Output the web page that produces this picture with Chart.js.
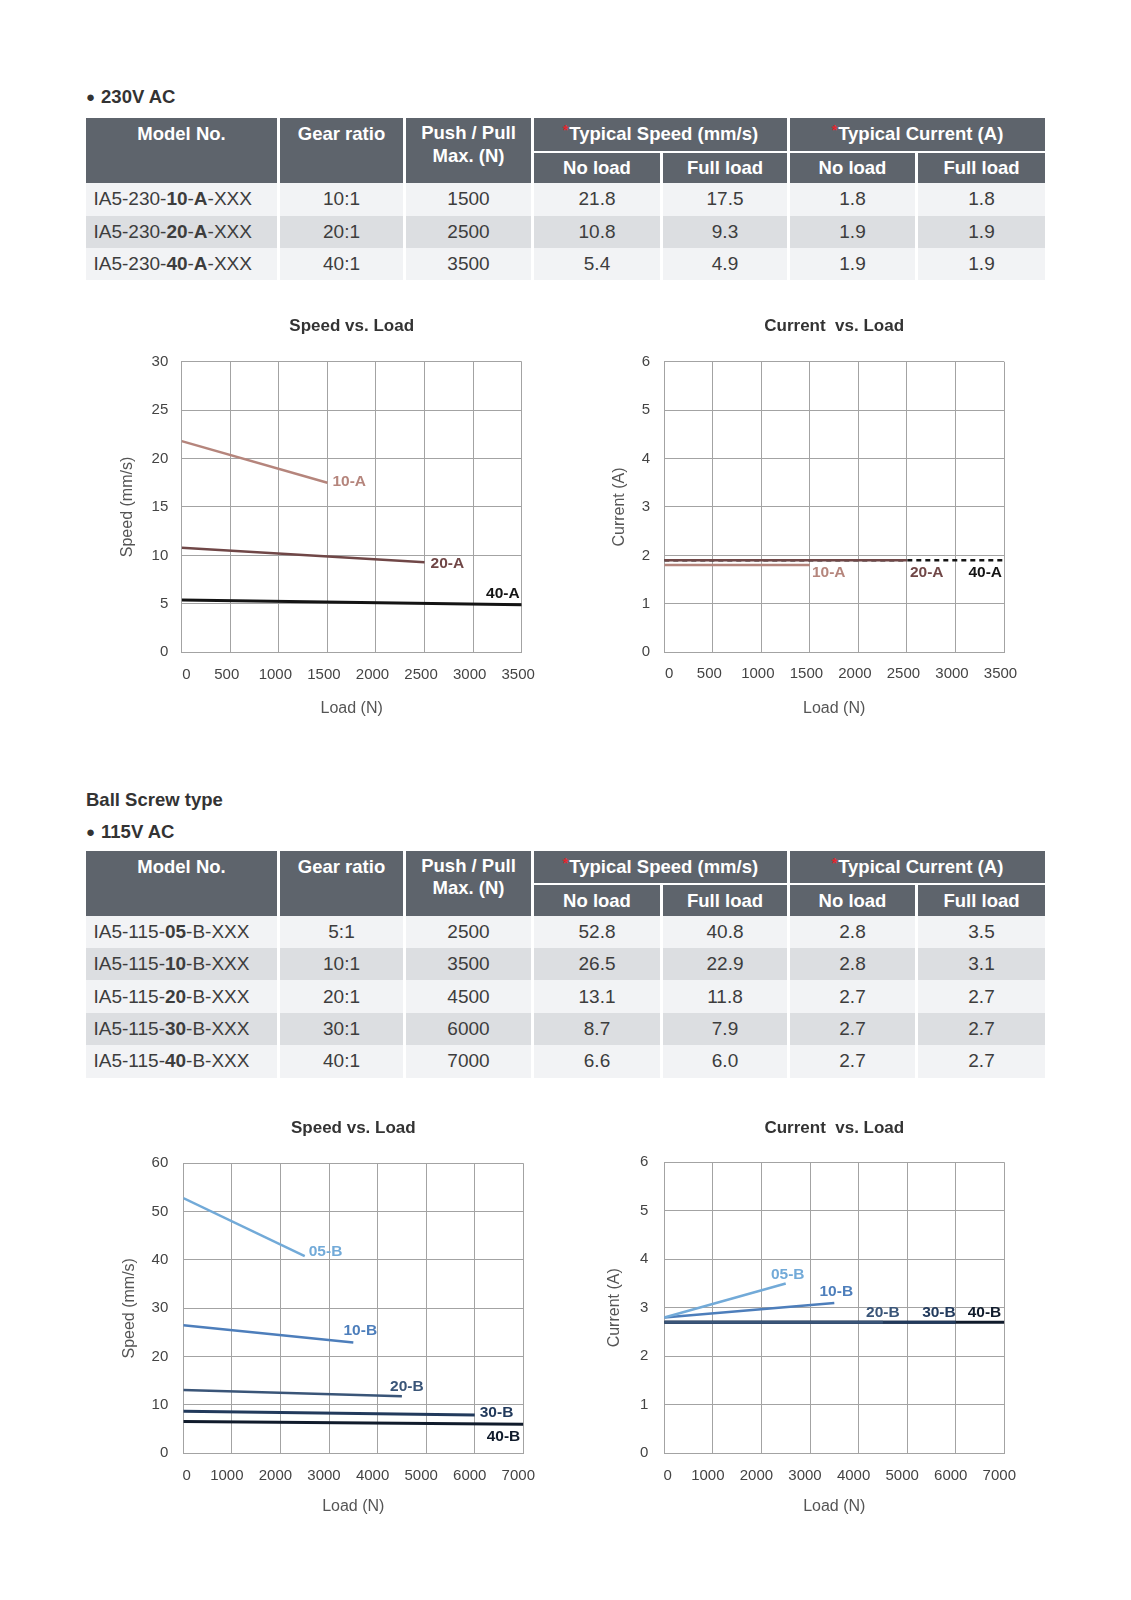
<!DOCTYPE html>
<html>
<head>
<meta charset="utf-8">
<title>IA5 speed and current vs. load</title>
<script src="https://cdn.jsdelivr.net/npm/chart.js@4.4.1/dist/chart.umd.min.js"></script>
<style>
html, body { margin: 0; padding: 0; background: #fff; }
body { position: relative; width: 1131px; height: 1600px; overflow: hidden;
       font-family: 'Liberation Sans', Arial, Helvetica, sans-serif; }
.heading { position: absolute; left: 86px; height: 24px; line-height: 24px; font-size: 18.5px;
           font-weight: bold; color: #333; white-space: nowrap; }
.heading .dot { font-size: 15px; position: relative; top: -1px; margin-right: 6px; }
table.spec { position: absolute; left: 86px; width: 959px; table-layout: fixed;
             border-collapse: separate; border-spacing: 0; }
.spec th { background: #5e646c; color: #fff; font-size: 18.5px; font-weight: bold; padding: 0;
           line-height: 32px; text-align: center; vertical-align: top; border-left: 3px solid #fff;
           white-space: nowrap; overflow: hidden; }
.spec th.first { border-left: none; }
.spec th.two { line-height: 22.4px; padding-top: 4px; }
.spec tr.h1 { height: 32.4px; }
.spec tr.h2 { height: 32.6px; }
.spec th.sub { border-top: 2px solid #fff; line-height: 29px; vertical-align: middle; }
.spec tbody tr { height: 32.4px; }
.spec td { padding: 0; font-size: 19px; color: #3d3d3d; text-align: center; line-height: 32px;
           border-left: 3px solid #fff; white-space: nowrap; }
.spec td.model { text-align: left; padding-left: 7.5px; border-left: none; }
.spec tr.odd td { background: #f2f3f5; }
.spec tr.even td { background: #dcdee1; }
.ast { color: #e3262f; font-size: 14px; line-height: 0; position: relative; top: -5px; margin-right: 1px; }
canvas.chart { position: absolute; }
</style>
</head>
<body>

<div class="heading" style="top:84.7px"><span class="dot">&#9679;</span>230V AC</div>
<table class="spec" id="table230" style="top:118.3px">
  <colgroup>
    <col style="width:191px"><col style="width:126px"><col style="width:128px">
    <col style="width:129px"><col style="width:127px"><col style="width:128px"><col style="width:130px">
  </colgroup>
  <thead>
    <tr class="h1">
      <th rowspan="2" class="first">Model No.</th>
      <th rowspan="2">Gear ratio</th>
      <th rowspan="2" class="two">Push / Pull<br>Max. (N)</th>
      <th colspan="2"><span class="ast">*</span>Typical Speed (mm/s)</th>
      <th colspan="2"><span class="ast">*</span>Typical Current (A)</th>
    </tr>
    <tr class="h2">
      <th class="sub">No load</th><th class="sub">Full load</th>
      <th class="sub">No load</th><th class="sub">Full load</th>
    </tr>
  </thead>
  <tbody></tbody>
</table>
<canvas id="speed230" class="chart"></canvas>
<canvas id="current230" class="chart"></canvas>

<div class="heading" style="top:788px">Ball Screw type</div>
<div class="heading" style="top:820.3px"><span class="dot">&#9679;</span>115V AC</div>
<table class="spec" id="table115" style="top:850.7px">
  <colgroup>
    <col style="width:191px"><col style="width:126px"><col style="width:128px">
    <col style="width:129px"><col style="width:127px"><col style="width:128px"><col style="width:130px">
  </colgroup>
  <thead>
    <tr class="h1">
      <th rowspan="2" class="first">Model No.</th>
      <th rowspan="2">Gear ratio</th>
      <th rowspan="2" class="two">Push / Pull<br>Max. (N)</th>
      <th colspan="2"><span class="ast">*</span>Typical Speed (mm/s)</th>
      <th colspan="2"><span class="ast">*</span>Typical Current (A)</th>
    </tr>
    <tr class="h2">
      <th class="sub">No load</th><th class="sub">Full load</th>
      <th class="sub">No load</th><th class="sub">Full load</th>
    </tr>
  </thead>
  <tbody></tbody>
</table>
<canvas id="speed115" class="chart"></canvas>
<canvas id="current115" class="chart"></canvas>

<script>
// 230V AC models
const models230 = ['10-A', '20-A', '40-A'];
const gearRatio230 = ['10:1', '20:1', '40:1'];
const maxLoad230 = [1500, 2500, 3500];
const speedNoLoad230 = [21.8, 10.8, 5.4];
const speedFullLoad230 = [17.5, 9.3, 4.9];
const currentNoLoad230 = [1.8, 1.9, 1.9];
const currentFullLoad230 = [1.8, 1.9, 1.9];

// 115V AC ball screw models
const models115 = ['05-B', '10-B', '20-B', '30-B', '40-B'];
const gearRatio115 = ['5:1', '10:1', '20:1', '30:1', '40:1'];
const maxLoad115 = [2500, 3500, 4500, 6000, 7000];
const speedNoLoad115 = [52.8, 26.5, 13.1, 8.7, 6.6];
const speedFullLoad115 = [40.8, 22.9, 11.8, 7.9, 6.0];
const currentNoLoad115 = [2.8, 2.8, 2.7, 2.7, 2.7];
const currentFullLoad115 = [3.5, 3.1, 2.7, 2.7, 2.7];

// axis ranges: [min, max, step]
const loadAxis230 = [0, 3500, 500];
const speedAxis230 = [0, 30, 5];
const loadAxis115 = [0, 7000, 1000];
const speedAxis115 = [0, 60, 10];
const currentAxis = [0, 6, 1];

const colors230 = ['#b5857c', '#704747', '#141414'];
const colors115 = ['#72aad8', '#4d7ebb', '#3a5578', '#223a5c', '#101b2b'];

const FONT = "'Liberation Sans', Arial, Helvetica, sans-serif";
const GRID = '#a3a3a3';

function fillTable(id, prefix, boldSeries, models, gear, load, sNo, sFull, cNo, cFull) {
  const tbody = document.querySelector('#' + id + ' tbody');
  models.forEach((m, i) => {
    const [num, ser] = m.split('-');
    const name = prefix + '<b>' + num + '</b>-' + (boldSeries ? '<b>' + ser + '</b>' : ser) + '-XXX';
    const tr = document.createElement('tr');
    tr.className = i % 2 ? 'even' : 'odd';
    tr.innerHTML = '<td class="model">' + name + '</td><td>' + gear[i] + '</td><td>' + load[i] +
      '</td><td>' + sNo[i].toFixed(1) + '</td><td>' + sFull[i].toFixed(1) +
      '</td><td>' + cNo[i].toFixed(1) + '</td><td>' + cFull[i].toFixed(1) + '</td>';
    tbody.appendChild(tr);
  });
}

fillTable('table230', 'IA5-230-', true, models230, gearRatio230, maxLoad230,
  speedNoLoad230, speedFullLoad230, currentNoLoad230, currentFullLoad230);
fillTable('table115', 'IA5-115-', false, models115, gearRatio115, maxLoad115,
  speedNoLoad115, speedFullLoad115, currentNoLoad115, currentFullLoad115);

// writes each series name next to the end point of its line
const endLabels = {
  id: 'endLabels',
  afterDatasetsDraw(chart) {
    const ctx = chart.ctx;
    chart.data.datasets.forEach((ds, i) => {
      const pts = chart.getDatasetMeta(i).data;
      const end = pts[pts.length - 1];
      const [align, dx, dy] = ds.place;
      ctx.save();
      ctx.font = 'bold 15.5px ' + FONT;
      ctx.fillStyle = ds.borderColor;
      ctx.textAlign = align;
      ctx.textBaseline = 'middle';
      ctx.fillText(ds.label, end.x + dx, end.y + dy);
      ctx.restore();
    });
  }
};

function series(models, load, noLoad, fullLoad, colors, places, widths, dashes) {
  return models.map((m, i) => ({
    label: m,
    data: [{x: 0, y: noLoad[i]}, {x: load[i], y: fullLoad[i]}],
    borderColor: colors[i],
    borderWidth: widths[i],
    borderDash: dashes ? dashes[i] : [],
    pointRadius: 0,
    tension: 0,
    place: places[i]
  }));
}

// the source sheet sets the "0" load label a little right of its gridline
const loadLabel = v => (v === 0 ? '    0' : String(v));

function drawChart(id, g, title, yTitle, xAxis, yAxis, datasets) {
  const cl = Math.round(g.plotL - 100), ct = Math.round(g.titleY - 40);
  const cw = Math.round(g.plotR + 36) - cl, ch = Math.round(g.xTitleY + 22) - ct;
  const canvas = document.getElementById(id);
  canvas.width = cw;
  canvas.height = ch;
  canvas.style.left = cl + 'px';
  canvas.style.top = ct + 'px';
  canvas.style.width = cw + 'px';
  canvas.style.height = ch + 'px';
  const tLH = 17 * 1.2, aLH = 16 * 1.2, kLH = 15 * 1.2;
  const tPadTop = g.titleY - ct - tLH / 2;

  new Chart(canvas, {
    type: 'line',
    data: {datasets: datasets},
    options: {
      responsive: false,
      animation: false,
      layout: {padding: {left: 0, top: 0, bottom: 0, right: cl + cw - g.plotR}},
      plugins: {
        legend: {display: false},
        tooltip: {enabled: false},
        title: {
          display: true, text: title, color: '#333', fullSize: false,
          font: {family: FONT, size: 17, weight: 'bold'},
          padding: {top: tPadTop, bottom: g.plotT - ct - tPadTop - tLH}
        }
      },
      scales: {
        x: {
          type: 'linear', min: xAxis[0], max: xAxis[1],
          ticks: {stepSize: xAxis[2], autoSkip: false, maxRotation: 0, color: '#444',
                  font: {family: FONT, size: 15}, padding: g.xTickY - g.plotB - kLH / 2,
                  labelOffset: g.labelShift, callback: loadLabel},
          grid: {color: GRID, drawTicks: false},
          border: {color: GRID},
          title: {display: true, text: 'Load (N)', color: '#555', font: {family: FONT, size: 16},
                  padding: {top: 0, bottom: ct + ch - g.xTitleY - aLH / 2}},
          afterFit: s => { s.height = ct + ch - g.plotB; }
        },
        y: {
          type: 'linear', min: yAxis[0], max: yAxis[1],
          ticks: {stepSize: yAxis[2], color: '#444', font: {family: FONT, size: 15},
                  padding: g.plotL - g.yTickR},
          grid: {color: GRID, drawTicks: false},
          border: {color: GRID},
          title: {display: true, text: yTitle, color: '#555', font: {family: FONT, size: 16},
                  padding: {top: g.yTitleX - cl - aLH / 2, bottom: 0}},
          afterFit: s => { s.width = g.plotL - cl; }
        }
      }
    },
    plugins: [endLabels]
  });
}

// label placement next to each line end: [align, dx, dy]
const placeSpeed230 = [['left', 5, -1], ['left', 6, 2], ['right', -2, -11]];
const placeCurrent230 = [['left', 2, 8], ['left', 3, 12], ['right', -2, 12]];
const placeSpeed115 = [['left', 4, -4], ['center', 7, -12], ['center', 5, -10], ['left', 5, -2], ['right', -3, 12]];
const placeCurrent115 = [['center', 2, -9], ['center', 2, -11], ['center', 0, -10], ['right', 0, -10], ['right', -3, -10]];

drawChart('speed230',
  {plotL: 181.7, plotR: 521.7, plotT: 361.7, plotB: 652.3, titleY: 326, yTickR: 168.3, yTitleX: 127.2,
   xTickY: 675, xTitleY: 709, labelShift: -3.5},
  'Speed vs. Load', 'Speed (mm/s)', loadAxis230, speedAxis230,
  series(models230, maxLoad230, speedNoLoad230, speedFullLoad230, colors230, placeSpeed230, [2.5, 2.5, 3]));

drawChart('current230',
  {plotL: 664.3, plotR: 1004, plotT: 361.7, plotB: 652.3, titleY: 326, yTickR: 650, yTitleX: 619.3,
   xTickY: 674.3, xTitleY: 709, labelShift: -3.5},
  'Current  vs. Load', 'Current (A)', loadAxis230, currentAxis,
  series(models230, maxLoad230, currentNoLoad230, currentFullLoad230, colors230, placeCurrent230, [2.5, 2.5, 2.5],
         [[], [], [5, 4]]));

drawChart('speed115',
  {plotL: 183.3, plotR: 523.3, plotT: 1163.3, plotB: 1453.3, titleY: 1128.3, yTickR: 168.3, yTitleX: 129.3,
   xTickY: 1475.7, xTitleY: 1506.5, labelShift: -5},
  'Speed vs. Load', 'Speed (mm/s)', loadAxis115, speedAxis115,
  series(models115, maxLoad115, speedNoLoad115, speedFullLoad115, colors115, placeSpeed115, [2.5, 2.5, 2.5, 3, 3]));

drawChart('current115',
  {plotL: 664.3, plotR: 1004.3, plotT: 1162.3, plotB: 1453.3, titleY: 1128, yTickR: 648.3, yTitleX: 615,
   xTickY: 1475.7, xTitleY: 1506.5, labelShift: -5},
  'Current  vs. Load', 'Current (A)', loadAxis115, currentAxis,
  series(models115, maxLoad115, currentNoLoad115, currentFullLoad115, colors115, placeCurrent115, [2.5, 2.5, 3, 3, 3]));
</script>
</body>
</html>
